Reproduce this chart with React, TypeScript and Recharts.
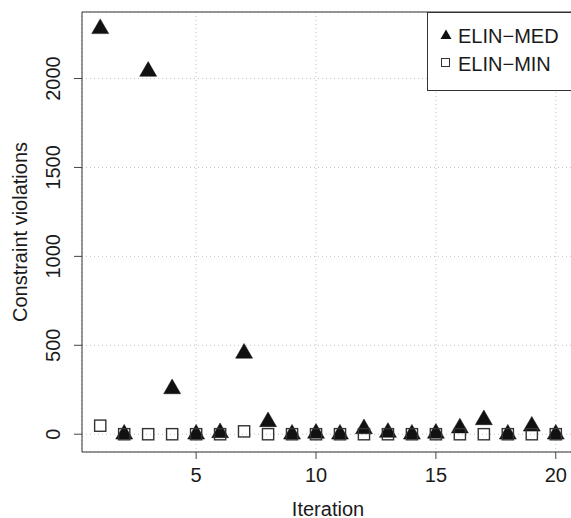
import React from 'react';
import {
  ScatterChart,
  Scatter,
  XAxis,
  YAxis,
  CartesianGrid,
  ReferenceArea,
  Legend,
} from 'recharts';

const iterations = [1, 2, 3, 4, 5, 6, 7, 8, 9, 10, 11, 12, 13, 14, 15, 16, 17, 18, 19, 20];
const elinMed = [2280, 0, 2040, 255, 0, 8, 455, 70, 0, 5, 0, 30, 10, 0, 5, 35, 81, 0, 45, 0];
const elinMin = [48, 0, 0, 0, 0, 0, 16, 0, 0, 0, 0, 0, 0, 0, 0, 0, 0, 0, 0, 0];
const xTicks = [5, 10, 15, 20];
const yTicks = [0, 500, 1000, 1500, 2000];
const seriesNames = ['ELIN\u2212MED', 'ELIN\u2212MIN'];

const medData = iterations.map((it, i) => ({ x: it, y: elinMed[i] }));
const minData = iterations.map((it, i) => ({ x: it, y: elinMin[i] }));

const FONT = '"Liberation Sans", Arial, Helvetica, sans-serif';
const TEXT = '#1a1a1a';
const X_DOMAIN: [number, number] = [0.24, 20.76];
const Y_DOMAIN: [number, number] = [-100, 2374];

const Triangle = (props: any) => {
  const { cx, cy } = props;
  if (cx == null || cy == null) return null;
  const s = 6.3;
  const r = 1.555 * s;
  const hx = 1.347 * s;
  const hy = 0.778 * s;
  return (
    <polygon
      points={`${cx},${cy - r} ${cx + hx},${cy + hy} ${cx - hx},${cy + hy}`}
      fill="#111"
      stroke="#111"
      strokeWidth={0.5}
    />
  );
};

const Square = (props: any) => {
  const { cx, cy } = props;
  if (cx == null || cy == null) return null;
  const h = 5.6;
  return (
    <rect x={cx - h} y={cy - h} width={2 * h} height={2 * h} fill="none" stroke="#333" strokeWidth={1.4} />
  );
};

const XTick = (props: any) => {
  const { x, payload } = props;
  return (
    <text x={x} y={482} textAnchor="middle" fontSize={20} fontFamily={FONT} fill={TEXT}>
      {payload.value}
    </text>
  );
};

const YTick = (props: any) => {
  const { y, payload } = props;
  const bx = 60;
  return (
    <text
      x={bx}
      y={y}
      transform={`rotate(-90, ${bx}, ${y})`}
      textAnchor="middle"
      fontSize={20}
      fontFamily={FONT}
      fill={TEXT}
    >
      {payload.value}
    </text>
  );
};

const YTitle = (props: any) => {
  const vb = props.viewBox || {};
  const cy = (vb.y ?? 12) + (vb.height ?? 440) / 2;
  const bx = 27;
  return (
    <text
      x={bx}
      y={cy}
      transform={`rotate(-90, ${bx}, ${cy})`}
      textAnchor="middle"
      fontSize={20}
      fontFamily={FONT}
      fill={TEXT}
    >
      Constraint violations
    </text>
  );
};

const XTitle = (props: any) => {
  const vb = props.viewBox || {};
  const cx = (vb.x ?? 82) + (vb.width ?? 492) / 2;
  return (
    <text x={cx} y={515.5} textAnchor="middle" fontSize={20} fontFamily={FONT} fill={TEXT}>
      Iteration
    </text>
  );
};

const LegendBox = () => (
  <svg width={147} height={79} style={{ display: 'block' }}>
    <rect x={0.5} y={0.5} width={150} height={78} fill="#fff" stroke="#333" strokeWidth={1} />
    <polygon points="19,17.5 24.5,27 13.5,27" fill="#111" />
    <text x={31} y={30.7} fontSize={20} fontFamily={FONT} fill={TEXT}>
      {seriesNames[0]}
    </text>
    <rect x={14.5} y={46.5} width={8} height={8} fill="none" stroke="#333" strokeWidth={1} />
    <text x={31} y={59} fontSize={20} fontFamily={FONT} fill={TEXT}>
      {seriesNames[1]}
    </text>
  </svg>
);

export default function App() {
  return (
    <div style={{ position: 'absolute', left: 0, top: 0, width: 571, height: 518, overflow: 'hidden', background: '#fff' }}>
      <ScatterChart width={575} height={518} margin={{ top: 12, right: 1, bottom: 0, left: 0 }}>
        <CartesianGrid stroke="#c4c4c4" strokeDasharray="1 3" />
        <XAxis
          type="number"
          dataKey="x"
          domain={X_DOMAIN}
          ticks={xTicks}
          allowDataOverflow
          height={66}
          tickSize={7}
          axisLine={false}
          tickLine={{ stroke: '#444' }}
          tick={<XTick />}
          label={<XTitle />}
        />
        <YAxis
          type="number"
          dataKey="y"
          domain={Y_DOMAIN}
          ticks={yTicks}
          allowDataOverflow
          width={82}
          tickSize={8}
          axisLine={false}
          tickLine={{ stroke: '#444' }}
          tick={<YTick />}
          label={<YTitle />}
        />
        <ReferenceArea
          x1={X_DOMAIN[0]}
          x2={X_DOMAIN[1]}
          y1={Y_DOMAIN[0]}
          y2={Y_DOMAIN[1]}
          fill="none"
          fillOpacity={0}
          stroke="#333"
          strokeWidth={1}
        />
        <Scatter name={seriesNames[0]} data={medData} shape={<Triangle />} isAnimationActive={false} />
        <Scatter name={seriesNames[1]} data={minData} shape={<Square />} isAnimationActive={false} />
        <Legend
          layout="horizontal"
          verticalAlign="middle"
          align="center"
          content={<LegendBox />}
          wrapperStyle={{ position: 'absolute', left: 427, top: 12, width: 147, height: 79, margin: 0, padding: 0 }}
        />
      </ScatterChart>
    </div>
  );
}
